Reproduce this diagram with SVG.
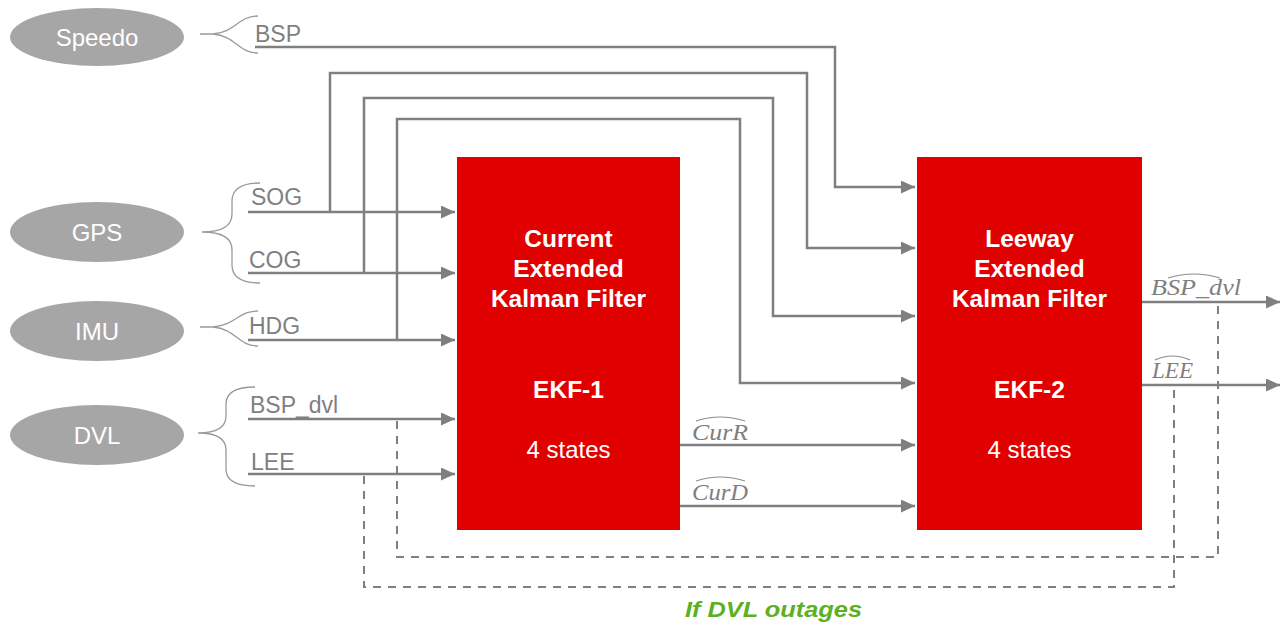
<svg xmlns="http://www.w3.org/2000/svg" width="1287" height="624" viewBox="0 0 1287 624">
<defs>
<marker id="arr" markerUnits="userSpaceOnUse" markerWidth="14" markerHeight="13" refX="14" refY="6.5" orient="auto">
<path d="M0,0 L14,6.5 L0,13 z" fill="#7f7f7f"/>
</marker>
</defs>
<style>
.src{fill:#a6a6a6}
.srct{font-family:"Liberation Sans",Arial,sans-serif;font-size:24px;fill:#fff;text-anchor:middle}
.lbl{font-family:"Liberation Sans",Arial,sans-serif;font-size:23px;fill:#7f7f7f}
.math{font-family:"Liberation Serif","Times New Roman",serif;font-style:italic;font-size:24px;fill:#7f7f7f}
.hat{fill:none;stroke:#8c8c8c;stroke-width:1.2}
.brace{fill:none;stroke:#9a9a9a;stroke-width:1.3}
.box{fill:#e10000}
.bt{font-family:"Liberation Sans",Arial,sans-serif;font-size:24.5px;font-weight:bold;fill:#fff;text-anchor:middle}
.bn{font-family:"Liberation Sans",Arial,sans-serif;font-size:24px;fill:#fff;text-anchor:middle}
.ln{fill:none;stroke:#7f7f7f;stroke-width:2.5}
.la{fill:none;stroke:#7f7f7f;stroke-width:2.5;marker-end:url(#arr)}
.dash{fill:none;stroke:#7f7f7f;stroke-width:2;stroke-dasharray:8 7}
</style>
<rect width="1287" height="624" fill="#fff"/>

<g id="speedo">
<ellipse class="src" cx="97" cy="37" rx="87" ry="29"/>
<text class="srct" x="97" y="45.5">Speedo</text>
</g>
<g id="gps">
<ellipse class="src" cx="97" cy="232" rx="87" ry="30"/>
<text class="srct" x="97" y="240.5">GPS</text>
</g>
<g id="imu">
<ellipse class="src" cx="97" cy="331" rx="87" ry="30"/>
<text class="srct" x="97" y="339.5">IMU</text>
</g>
<g id="dvl">
<ellipse class="src" cx="97" cy="435" rx="87" ry="30"/>
<text class="srct" x="97" y="443.5">DVL</text>
</g>

<g id="braces">
<path class="brace" d="M258,16 C238,16 236,32 213,34 L200,34 M213,34 C236,36 238,53 258,53"/>
<path class="brace" d="M260,183 Q232,183 232,201 L232,214 Q232,232 202,232 Q232,232 232,250 L232,265 Q232,283 260,283"/>
<path class="brace" d="M258,311 C238,311 236,325 213,327 L200,327 M213,327 C236,329 238,346 258,346"/>
<path class="brace" d="M255,387 Q226,387 226,404 L226,416 Q226,433 198,433 Q226,433 226,450 L226,469 Q226,486 255,486"/>
</g>

<g id="ekf1">
<rect class="box" x="457" y="157" width="223" height="373"/>
<text class="bt" x="568.5" y="247">Current</text>
<text class="bt" x="568.5" y="277">Extended</text>
<text class="bt" x="568.5" y="307">Kalman Filter</text>
<text class="bt" x="568.5" y="398">EKF-1</text>
<text class="bn" x="568.5" y="458">4 states</text>
</g>
<g id="ekf2">
<rect class="box" x="917" y="157" width="225" height="373"/>
<text class="bt" x="1029.5" y="247">Leeway</text>
<text class="bt" x="1029.5" y="277">Extended</text>
<text class="bt" x="1029.5" y="307">Kalman Filter</text>
<text class="bt" x="1029.5" y="398">EKF-2</text>
<text class="bn" x="1029.5" y="458">4 states</text>
</g>

<g id="connectors">
<path class="la" d="M255,47 H835 V187 H915"/>
<path class="la" d="M248,212 H455"/>
<path class="la" d="M330,212 V73 H807 V248 H915"/>
<path class="la" d="M248,273 H455"/>
<path class="la" d="M364,273 V98 H773 V316 H915"/>
<path class="la" d="M248,340 H455"/>
<path class="la" d="M397,340 V119 H740 V383 H915"/>
<path class="la" d="M248,419 H455"/>
<path class="la" d="M248,474 H455"/>
<path class="la" d="M680,445 H915"/>
<path class="la" d="M680,506 H915"/>
<path class="la" d="M1142,302 H1280"/>
<path class="la" d="M1142,385 H1280"/>
<path class="dash" d="M397,421 V557 H1218 V304"/>
<path class="dash" d="M364,476 V587 H1174 V387"/>
</g>

<g id="labels">
<text class="lbl" x="255" y="42">BSP</text>
<text class="lbl" x="251" y="205">SOG</text>
<text class="lbl" x="249" y="268">COG</text>
<text class="lbl" x="249" y="334">HDG</text>
<text class="lbl" x="250" y="413">BSP_dvl</text>
<text class="lbl" x="251" y="470">LEE</text>
<text class="math" x="692" y="440" textLength="56" lengthAdjust="spacingAndGlyphs">CurR</text>
<path class="hat" d="M696,421 Q720,413 745,421"/>
<text class="math" x="692" y="500" textLength="56" lengthAdjust="spacingAndGlyphs">CurD</text>
<path class="hat" d="M696,481 Q720,473 745,481"/>
<text class="math" x="1151" y="295" textLength="90" lengthAdjust="spacingAndGlyphs">BSP_dvl</text>
<path class="hat" d="M1168,278 Q1194,270 1220,278"/>
<text class="math" x="1152" y="378" textLength="41" lengthAdjust="spacingAndGlyphs">LEE</text>
<path class="hat" d="M1155,360 Q1172,352 1190,360"/>
<text x="685" y="617" textLength="177" lengthAdjust="spacingAndGlyphs" style="font-family:'Liberation Sans',Arial,sans-serif;font-size:22px;font-weight:bold;font-style:italic;fill:#5cb021">If DVL outages</text>
</g>
</svg>
